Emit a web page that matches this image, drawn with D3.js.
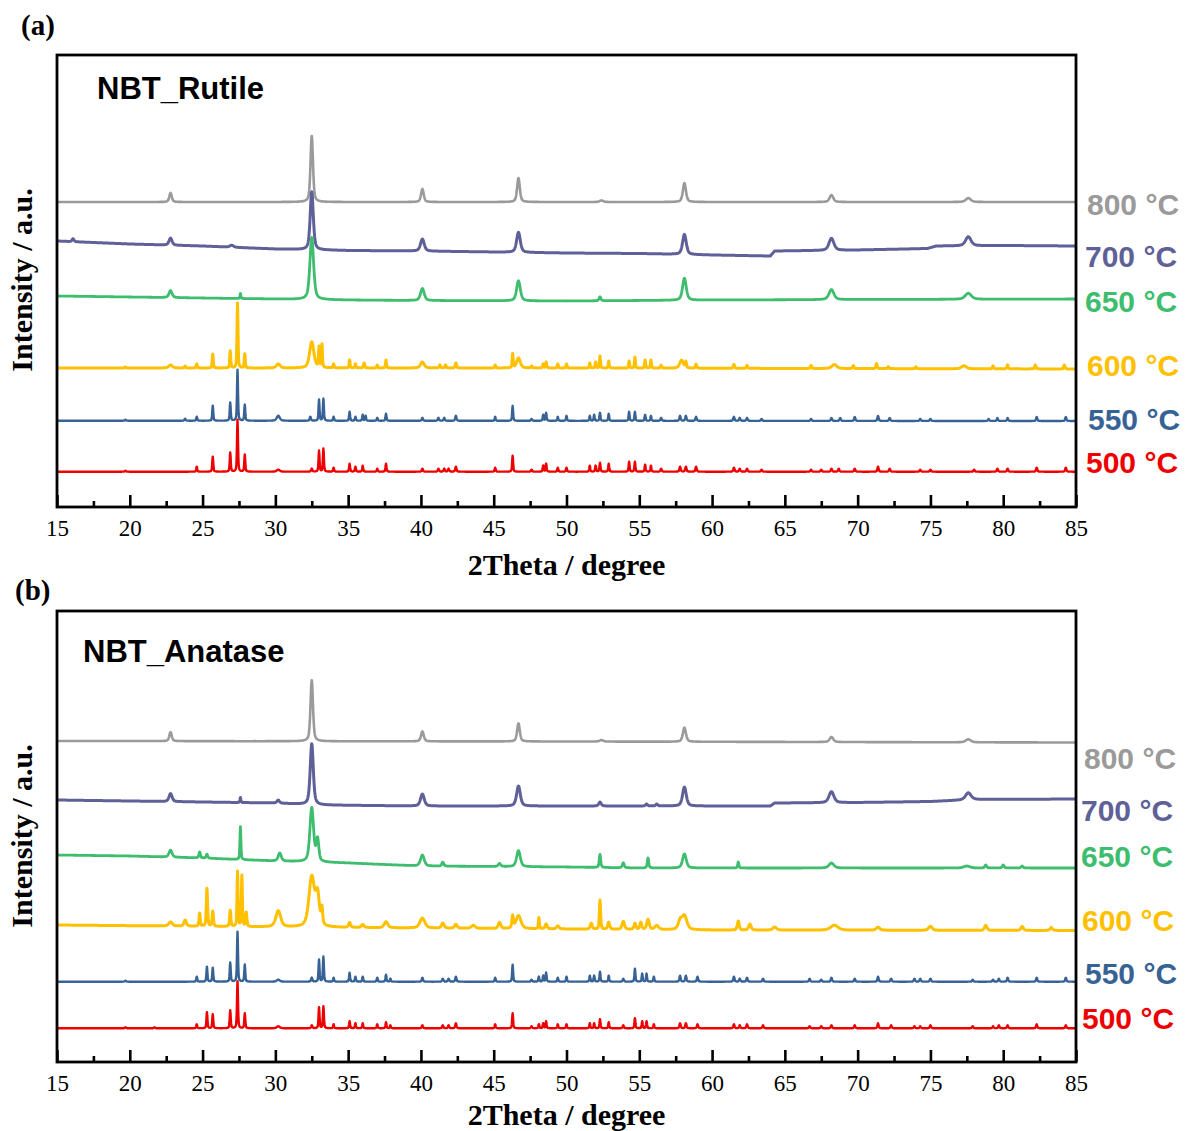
<!DOCTYPE html>
<html><head><meta charset="utf-8">
<script src="https://cdn.jsdelivr.net/npm/d3@7"></script>
<style>
html,body{margin:0;padding:0;background:#fff;}
svg{display:block;}
</style></head>
<body>
<svg id="chart" width="1186" height="1131"></svg>
<script>
// ---------------- DATA ----------------
const temps = ["800 °C", "700 °C", "650 °C", "600 °C", "550 °C", "500 °C"];
const panelTitles = ["NBT_Rutile", "NBT_Anatase"];
const panelLetters = ["(a)", "(b)"];
const xTicksMajor = [15, 20, 25, 30, 35, 40, 45, 50, 55, 60, 65, 70, 75, 80, 85];
const xTicksMinor = [17.5, 22.5, 27.5, 32.5, 37.5, 42.5, 47.5, 52.5, 57.5, 62.5, 67.5, 72.5, 77.5, 82.5];

// Baselines (2theta, intensity a.u., stacked) and peaks [2theta, height a.u., FWHM deg]
// Panel (a) NBT_Rutile
const rutile800Base = [[15, 305], [50, 305], [85, 305]];
const rutile800Peaks = [[22.8, 9, 0.2], [32.5, 66, 0.2], [40.1, 13, 0.22], [46.7, 24, 0.22], [52.4, 1.5, 0.3], [58.1, 19, 0.25], [68.2, 7, 0.3], [77.6, 4, 0.4]];
const rutile700Base = [[15, 266], [20, 263], [25, 261], [30, 258], [35, 256.5], [40, 256], [50, 254], [55, 253.5], [60, 252], [64.0, 251], [64.3, 256], [70, 257], [74.8, 258.5], [75.4, 261], [80, 261.5], [85, 261]];
const rutile700Peaks = [[16.1, 3, 0.15], [22.8, 7, 0.25], [27.0, 2, 0.3], [32.5, 58, 0.25], [40.1, 12, 0.3], [46.7, 20, 0.3], [58.1, 20, 0.3], [68.2, 12, 0.4], [77.6, 9, 0.45]];
const rutile650Base = [[15, 211], [20, 210], [25, 209], [30, 208], [35, 207], [40, 206.5], [50, 206], [60, 207], [70, 207.5], [85, 208]];
const rutile650Peaks = [[22.8, 7, 0.25], [27.6, 5, 0.08], [32.5, 62, 0.3], [40.1, 12, 0.3], [46.7, 20, 0.3], [52.3, 4, 0.15], [58.1, 22, 0.3], [68.2, 10, 0.4], [77.6, 6, 0.5]];
const rutile600Base = [[15, 139], [50, 139], [85, 138]];
const rutile600Peaks = [[19.7, 1, 0.1], [22.8, 3, 0.3], [23.8, 2, 0.1], [24.6, 4, 0.08], [25.7, 14, 0.08], [26.9, 17, 0.08], [27.4, 65, 0.08], [27.9, 14, 0.08], [30.2, 4, 0.3], [32.5, 26, 0.35], [33.0, 20, 0.08], [33.2, 23, 0.08], [34.0, 4, 0.08], [35.1, 8, 0.08], [35.5, 4, 0.08], [36.1, 5, 0.1], [37.0, 3, 0.08], [37.6, 8, 0.08], [40.1, 6, 0.3], [41.3, 3, 0.1], [41.7, 3, 0.1], [42.4, 5, 0.1], [45.1, 3, 0.08], [46.3, 14, 0.08], [46.7, 10, 0.3], [47.6, 2, 0.1], [48.4, 4, 0.08], [48.6, 6, 0.08], [49.4, 4, 0.08], [50.0, 4, 0.08], [51.6, 5, 0.08], [52.0, 6, 0.08], [52.3, 12, 0.08], [52.9, 7, 0.08], [54.3, 7, 0.08], [54.7, 11, 0.08], [55.4, 8, 0.08], [55.8, 8, 0.08], [56.5, 3, 0.1], [57.9, 8, 0.3], [58.2, 6, 0.1], [58.9, 4, 0.1], [61.5, 4, 0.1], [62.4, 3, 0.1], [66.8, 3, 0.1], [68.4, 4, 0.4], [69.7, 3, 0.1], [71.3, 5, 0.1], [72.1, 2, 0.1], [74.0, 2, 0.1], [77.3, 3, 0.4], [79.3, 3, 0.1], [80.3, 4, 0.1], [82.2, 4, 0.1], [84.2, 4, 0.1]];
const rutile550Base = [[15, 86.3], [85, 86]];
const rutile550Peaks = [[19.7, 1, 0.1], [23.8, 2, 0.1], [24.6, 4, 0.08], [25.7, 15, 0.08], [26.9, 18, 0.08], [27.4, 51, 0.08], [27.9, 16, 0.08], [30.2, 5, 0.25], [32.4, 4, 0.1], [33.0, 21, 0.08], [33.3, 22, 0.08], [34.0, 4, 0.08], [35.1, 9, 0.08], [35.5, 4, 0.08], [36.0, 6, 0.08], [36.2, 5, 0.08], [37.0, 3, 0.08], [37.6, 7, 0.08], [40.1, 3, 0.1], [41.2, 3, 0.1], [41.6, 3, 0.1], [42.4, 5, 0.1], [45.1, 4, 0.08], [46.3, 15, 0.08], [47.6, 2, 0.1], [48.4, 6, 0.08], [48.6, 8, 0.08], [49.4, 4, 0.08], [50.0, 5, 0.08], [51.6, 5, 0.08], [51.9, 6, 0.08], [52.3, 8, 0.08], [52.9, 7, 0.08], [54.3, 9, 0.08], [54.7, 9, 0.08], [55.4, 6, 0.08], [55.8, 5, 0.08], [56.5, 3, 0.1], [57.8, 5, 0.1], [58.2, 5, 0.1], [58.9, 4, 0.1], [61.5, 4, 0.1], [61.9, 3, 0.1], [62.4, 3, 0.1], [63.4, 2, 0.1], [66.8, 2, 0.1], [68.2, 3, 0.1], [68.8, 3, 0.1], [69.8, 4, 0.1], [71.4, 5, 0.1], [72.2, 3, 0.1], [74.3, 2, 0.1], [75.0, 2, 0.1], [79.0, 2, 0.1], [79.6, 3, 0.1], [80.3, 3, 0.1], [82.3, 4, 0.1], [84.3, 4, 0.1]];
const rutile500Base = [[15, 35.3], [85, 35.3]];
const rutile500Peaks = [[19.7, 1, 0.1], [24.6, 5, 0.08], [25.7, 15, 0.08], [26.9, 19, 0.08], [27.4, 52, 0.08], [27.9, 17, 0.08], [30.2, 2, 0.25], [32.5, 3, 0.1], [33.0, 21, 0.08], [33.3, 23, 0.08], [34.0, 4, 0.08], [35.1, 8, 0.08], [35.5, 5, 0.08], [36.0, 6, 0.08], [37.0, 3, 0.08], [37.6, 8, 0.08], [40.1, 3, 0.1], [41.2, 3, 0.1], [41.6, 3, 0.1], [41.9, 3, 0.1], [42.4, 5, 0.1], [45.1, 4, 0.08], [46.3, 16, 0.08], [47.6, 2, 0.1], [48.4, 6, 0.08], [48.6, 8, 0.08], [49.4, 4, 0.08], [50.0, 4, 0.08], [51.6, 6, 0.08], [52.0, 6, 0.08], [52.3, 9, 0.08], [52.9, 8, 0.08], [54.3, 10, 0.08], [54.7, 10, 0.08], [55.4, 7, 0.08], [55.8, 6, 0.08], [56.5, 3, 0.1], [57.8, 5, 0.1], [58.2, 5, 0.1], [58.9, 5, 0.1], [61.5, 4, 0.1], [61.9, 3, 0.1], [62.4, 3, 0.1], [63.4, 2, 0.1], [66.8, 2, 0.1], [67.5, 2, 0.1], [68.2, 3, 0.1], [68.7, 3, 0.1], [69.8, 3, 0.1], [71.4, 5, 0.1], [72.2, 3, 0.1], [74.3, 2, 0.1], [75.0, 2, 0.1], [78.0, 2, 0.1], [79.6, 3, 0.1], [80.3, 3, 0.1], [82.3, 4, 0.1], [84.3, 4, 0.1]];

// Panel (b) NBT_Anatase
const anatase800Base = [[15, 321], [50, 320.5], [85, 319.5]];
const anatase800Peaks = [[22.8, 9, 0.2], [32.5, 61, 0.2], [40.1, 10, 0.22], [46.7, 18, 0.22], [52.4, 1.5, 0.3], [58.1, 14, 0.25], [68.2, 5, 0.3], [77.6, 3, 0.4]];
const anatase700Base = [[15, 262], [25, 260], [30, 259], [33, 257], [40, 256], [50, 256], [64.0, 256], [64.3, 259], [70, 259.5], [75, 260.5], [78, 262.5], [85, 263]];
const anatase700Peaks = [[22.8, 8, 0.25], [27.6, 5, 0.08], [30.2, 3, 0.2], [32.5, 61, 0.25], [40.1, 12, 0.3], [46.7, 20, 0.3], [52.3, 4, 0.2], [55.5, 2, 0.15], [56.2, 2, 0.15], [58.1, 19, 0.3], [68.2, 11, 0.4], [77.6, 7, 0.45]];
const anatase650Base = [[15, 207], [20, 206], [25, 204], [30, 201], [35, 199], [40, 196], [45, 195.5], [50, 195], [55, 194], [85, 194]];
const anatase650Peaks = [[22.8, 7, 0.25], [24.8, 6, 0.12], [25.3, 4, 0.12], [27.6, 33, 0.08], [30.3, 8, 0.25], [32.5, 54, 0.3], [32.9, 22, 0.2], [40.1, 11, 0.3], [41.5, 4, 0.15], [45.4, 3, 0.2], [46.7, 16, 0.3], [52.3, 13, 0.12], [53.9, 5, 0.15], [55.6, 10, 0.12], [58.1, 14, 0.3], [61.8, 6, 0.1], [68.2, 5, 0.4], [77.5, 2, 0.5], [78.8, 3, 0.15], [80.0, 3, 0.15], [81.3, 2, 0.15]];
const anatase600Base = [[15, 137], [30, 135], [40, 134], [50, 133], [60, 132], [85, 131.5]];
const anatase600Peaks = [[22.8, 4, 0.3], [23.8, 6, 0.2], [24.8, 13, 0.1], [25.3, 38, 0.1], [25.7, 15, 0.1], [26.9, 16, 0.1], [27.4, 55, 0.08], [27.7, 51, 0.08], [28.0, 14, 0.1], [30.2, 16, 0.4], [32.5, 50, 0.45], [32.9, 30, 0.3], [33.2, 16, 0.12], [35.1, 5, 0.15], [36.0, 3, 0.2], [37.6, 6, 0.3], [40.1, 10, 0.4], [41.5, 5, 0.2], [42.4, 4, 0.2], [43.6, 3, 0.3], [45.4, 6, 0.2], [46.3, 12, 0.12], [46.7, 13, 0.4], [48.1, 11, 0.08], [48.6, 5, 0.15], [49.4, 3, 0.2], [51.7, 6, 0.15], [52.3, 29, 0.1], [52.9, 7, 0.15], [53.9, 8, 0.2], [54.7, 6, 0.15], [55.1, 7, 0.15], [55.6, 10, 0.2], [56.2, 4, 0.3], [57.8, 8, 0.3], [58.1, 14, 0.4], [61.8, 9, 0.15], [62.6, 6, 0.2], [64.3, 3, 0.3], [68.4, 5, 0.6], [71.4, 3, 0.3], [75.0, 4, 0.3], [78.8, 5, 0.2], [81.3, 4, 0.2], [83.3, 3, 0.2]];
const anatase550Base = [[15, 80.3], [85, 80.3]];
const anatase550Peaks = [[19.7, 1, 0.1], [24.6, 5, 0.08], [25.3, 15, 0.08], [25.7, 14, 0.08], [26.9, 19, 0.08], [27.4, 50, 0.08], [27.9, 17, 0.08], [30.2, 2, 0.25], [32.5, 4, 0.1], [33.0, 22, 0.08], [33.3, 25, 0.08], [34.0, 4, 0.08], [35.1, 9, 0.08], [35.5, 5, 0.08], [36.0, 5, 0.08], [37.0, 4, 0.08], [37.6, 7, 0.08], [37.9, 3, 0.08], [40.1, 4, 0.1], [41.5, 3, 0.1], [41.9, 3, 0.1], [42.4, 5, 0.1], [45.1, 4, 0.08], [46.3, 17, 0.08], [47.6, 2, 0.1], [48.1, 5, 0.08], [48.4, 6, 0.08], [48.6, 9, 0.08], [49.4, 4, 0.08], [50.0, 5, 0.08], [51.6, 6, 0.08], [51.9, 6, 0.08], [52.3, 10, 0.08], [52.9, 6, 0.08], [53.9, 3, 0.1], [54.7, 13, 0.08], [55.2, 8, 0.08], [55.5, 8, 0.08], [56.0, 5, 0.08], [57.8, 6, 0.1], [58.2, 6, 0.1], [59.0, 5, 0.1], [61.5, 5, 0.1], [61.9, 3, 0.1], [62.4, 4, 0.1], [63.5, 3, 0.1], [66.7, 3, 0.1], [67.5, 2, 0.1], [68.2, 4, 0.1], [69.8, 3, 0.1], [71.4, 5, 0.1], [72.3, 3, 0.1], [73.9, 3, 0.1], [74.3, 3, 0.1], [75.0, 3, 0.1], [77.9, 2, 0.1], [79.3, 2, 0.1], [79.7, 3, 0.1], [80.3, 4, 0.1], [82.3, 4, 0.1], [84.3, 4, 0.1]];
const anatase500Base = [[15, 33.7], [85, 33.7]];
const anatase500Peaks = [[19.7, 1, 0.1], [21.7, 1, 0.1], [24.6, 4, 0.08], [25.3, 16, 0.08], [25.7, 14, 0.08], [26.9, 18, 0.08], [27.4, 47, 0.08], [27.9, 15, 0.08], [30.2, 2, 0.25], [32.5, 3, 0.1], [33.0, 21, 0.08], [33.3, 22, 0.08], [34.0, 4, 0.08], [35.1, 7, 0.08], [35.5, 5, 0.08], [36.0, 5, 0.08], [37.0, 4, 0.08], [37.6, 6, 0.08], [37.9, 3, 0.08], [40.1, 3, 0.1], [41.5, 3, 0.1], [41.9, 3, 0.1], [42.4, 5, 0.1], [45.1, 4, 0.08], [46.3, 15, 0.08], [47.6, 2, 0.1], [48.1, 4, 0.08], [48.4, 5, 0.08], [48.6, 7, 0.08], [49.4, 4, 0.08], [50.0, 4, 0.08], [51.6, 5, 0.08], [51.9, 5, 0.08], [52.3, 9, 0.08], [52.9, 6, 0.08], [53.9, 3, 0.1], [54.7, 10, 0.08], [55.2, 7, 0.08], [55.5, 7, 0.08], [56.0, 4, 0.08], [57.8, 5, 0.1], [58.2, 5, 0.1], [59.0, 4, 0.1], [61.5, 4, 0.1], [61.9, 3, 0.1], [62.4, 4, 0.1], [63.5, 3, 0.1], [66.7, 2, 0.1], [67.5, 2, 0.1], [68.2, 3, 0.1], [69.8, 3, 0.1], [71.4, 5, 0.1], [72.3, 3, 0.1], [73.9, 2, 0.1], [74.3, 2, 0.1], [75.0, 3, 0.1], [77.9, 2, 0.1], [79.3, 2, 0.1], [79.7, 3, 0.1], [80.3, 3, 0.1], [82.3, 4, 0.1], [84.3, 3, 0.1]];

const rutileBases = [rutile800Base, rutile700Base, rutile650Base, rutile600Base, rutile550Base, rutile500Base];
const rutilePeaks = [rutile800Peaks, rutile700Peaks, rutile650Peaks, rutile600Peaks, rutile550Peaks, rutile500Peaks];
const anataseBases = [anatase800Base, anatase700Base, anatase650Base, anatase600Base, anatase550Base, anatase500Base];
const anatasePeaks = [anatase800Peaks, anatase700Peaks, anatase650Peaks, anatase600Peaks, anatase550Peaks, anatase500Peaks];

// ---------------- STYLE / LAYOUT ----------------
const colors = ["#9a9a9a", "#5f6098", "#3dbd6d", "#ffc000", "#376295", "#ee0000"];
const strokeW = [2.6, 3.0, 2.8, 3.0, 2.4, 2.4];
const panels = [
  { top: 55, bottom: 507, yMax: 452, bases: rutileBases, peaks: rutilePeaks,
    letterXY: [21, 35], titleXY: [97, 99], labelX: [1087, 1085, 1085, 1087, 1088, 1086],
    labelY: [215, 267, 312, 376, 430, 473], yTitleY: 280, xTitleY: 575 },
  { top: 611, bottom: 1062, yMax: 451, bases: anataseBases, peaks: anatasePeaks,
    letterXY: [15, 600], titleXY: [83, 662], labelX: [1084, 1081, 1081, 1082, 1085, 1082],
    labelY: [769, 821, 867, 931, 984, 1029], yTitleY: 836, xTitleY: 1125 }
];
const left = 57, right = 1076;
const serif = "'Liberation Serif','Times New Roman',Times,serif";
const sans = "'Liberation Sans',Arial,Helvetica,sans-serif";

const svg = d3.select("#chart");
const x = d3.scaleLinear().domain([15, 85]).range([left, right]);

// pseudo-Voigt profile sampled on the 2theta grid
const grid = d3.range(15, 85.0001, 0.02);
function profile(base, peaks) {
  const bl = d3.scaleLinear().domain(base.map(d => d[0])).range(base.map(d => d[1])).clamp(true);
  return grid.map(t => {
    let v = bl(t);
    for (const [c, h, w] of peaks) {
      const dd = t - c;
      if (Math.abs(dd) > 4) continue;
      const u = dd / (w / 2);
      v += h * (0.5 / (1 + u * u) + 0.5 * Math.exp(-Math.LN2 * u * u));
    }
    return [t, v];
  });
}

panels.forEach((p, pi) => {
  const y = d3.scaleLinear().domain([0, p.yMax]).range([p.bottom, p.top]);
  const g = svg.append("g");
  const clipId = "clip" + pi;
  svg.append("clipPath").attr("id", clipId).append("rect")
    .attr("x", left).attr("y", p.top).attr("width", right - left).attr("height", p.bottom - p.top);

  const line = d3.line().x(d => x(d[0])).y(d => y(d[1]));
  const lines = g.append("g").attr("clip-path", `url(#${clipId})`);
  temps.forEach((t, i) => {
    lines.append("path")
      .attr("d", line(profile(p.bases[i], p.peaks[i])))
      .attr("fill", "none")
      .attr("stroke", colors[i])
      .attr("stroke-width", strokeW[i])
      .attr("stroke-linejoin", "round");
  });

  // axis ticks (inward)
  const axMaj = d3.axisBottom(x).tickValues(xTicksMajor).tickSizeInner(-12).tickSizeOuter(0).tickPadding(13).tickFormat(d3.format("d"));
  const axMin = d3.axisBottom(x).tickValues(xTicksMinor).tickSizeInner(-6).tickSizeOuter(0).tickFormat("");
  const ga = g.append("g").attr("transform", `translate(0,${p.bottom})`).call(axMaj);
  const gm = g.append("g").attr("transform", `translate(0,${p.bottom})`).call(axMin);
  [ga, gm].forEach(a => {
    a.select(".domain").remove();
    a.selectAll("line").attr("stroke", "#000").attr("stroke-width", 2.6);
  });
  ga.selectAll("text").attr("font-family", serif).attr("font-size", 23).attr("fill", "#000");

  // frame
  g.append("rect").attr("x", left).attr("y", p.top).attr("width", right - left).attr("height", p.bottom - p.top)
    .attr("fill", "none").attr("stroke", "#000").attr("stroke-width", 2.8);

  // texts
  g.append("text").attr("x", p.letterXY[0]).attr("y", p.letterXY[1]).text(panelLetters[pi])
    .attr("font-family", serif).attr("font-weight", "bold").attr("font-size", 29);
  g.append("text").attr("x", p.titleXY[0]).attr("y", p.titleXY[1]).text(panelTitles[pi])
    .attr("font-family", sans).attr("font-weight", "bold").attr("font-size", 31);
  g.append("text").attr("x", (left + right) / 2).attr("y", p.xTitleY).attr("text-anchor", "middle")
    .text("2Theta / degree").attr("font-family", serif).attr("font-weight", "bold").attr("font-size", 30);
  g.append("text").attr("transform", `translate(32,${p.yTitleY}) rotate(-90)`).attr("text-anchor", "middle")
    .text("Intensity / a.u.").attr("font-family", serif).attr("font-weight", "bold").attr("font-size", 30);

  temps.forEach((t, i) => {
    g.append("text").attr("x", p.labelX[i]).attr("y", p.labelY[i]).text(t)
      .attr("font-family", sans).attr("font-weight", "bold").attr("font-size", 30)
      .attr("fill", colors[i]);
  });
});
</script>
</body></html>
